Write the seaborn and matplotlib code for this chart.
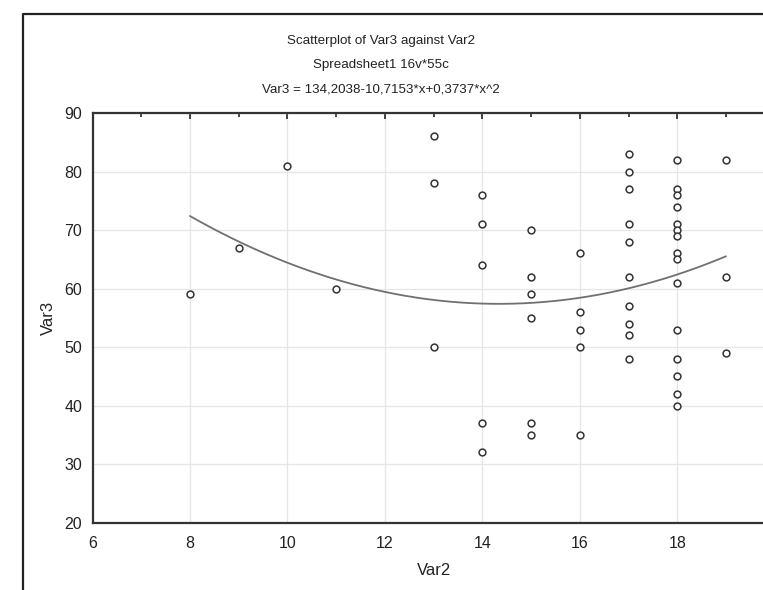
import numpy as np
import matplotlib
matplotlib.use("Agg")
import matplotlib.pyplot as plt
from matplotlib.lines import Line2D
from matplotlib.ticker import MultipleLocator, FixedLocator
import seaborn as sns


# Values (Var2 = x, Var3 = y)
var2 = [8, 9, 10, 11,
        13, 13, 13,
        14, 14, 14, 14, 14,
        15, 15, 15, 15, 15, 15,
        16, 16, 16, 16, 16,
        17, 17, 17, 17, 17, 17, 17, 17, 17, 17,
        18, 18, 18, 18, 18, 18, 18, 18, 18, 18, 18, 18, 18, 18, 18,
        19, 19, 19]
var3 = [59, 67, 81, 60,
        86, 78, 50,
        76, 71, 64, 37, 32,
        70, 62, 59, 55, 37, 35,
        66, 56, 53, 50, 35,
        83, 80, 77, 71, 68, 62, 57, 54, 52, 48,
        82, 77, 76, 74, 71, 70, 69, 66, 65, 61, 53, 48, 45, 42, 40,
        82, 62, 49]

# quadratic fit as printed in the chart: Var3 = c0 + c1*x + c2*x^2
fit_coef = [134.2038, -10.7153, 0.3737]

title_lines = ["Scatterplot of Var3 against Var2",
               "Spreadsheet1 16v*55c",
               "Var3 = 134,2038-10,7153*x+0,3737*x^2"]
x_ticks = [6, 8, 10, 12, 14, 16, 18]

sns.set_style("white")
plt.rcParams['font.family'] = ['Liberation Sans', 'DejaVu Sans']

W, H = 763, 590
fig = plt.figure(figsize=(W / 100, H / 100), dpi=100)
ax = fig.add_axes([92.5 / W, 1 - 522.7 / H, (774.7 - 92.5) / W, (522.7 - 113) / H])

# fitted curve over the range of the data
fit_x = np.linspace(min(var2), max(var2), 200)
fit_y = np.polynomial.polynomial.polyval(fit_x, fit_coef)
sns.lineplot(x=fit_x, y=fit_y, color='#707070', lw=1.3, ax=ax)

# open circle markers
sns.scatterplot(x=var2, y=var3, marker='o', color='white', edgecolor='#333333',
                linewidth=1.1, s=24, ax=ax, zorder=3)

ax.set_xlim(6, 20)
ax.set_ylim(20, 90)
ax.xaxis.set_major_locator(FixedLocator(x_ticks))
ax.xaxis.set_minor_locator(MultipleLocator(1))
ax.yaxis.set_major_locator(MultipleLocator(10))
ax.yaxis.set_minor_locator(MultipleLocator(2))
ax.grid(True, which='major', color='#e6e6e6', lw=0.9)
ax.set_axisbelow(True)

ax.tick_params(which='both', direction='in', top=True, right=True, labelsize=11.5,
               colors='#222222')
ax.tick_params(axis='x', pad=9.5)
ax.tick_params(axis='y', pad=7.5)
ax.tick_params(which='major', length=4, width=1.2)
ax.tick_params(which='minor', length=3, width=1.2)
for s in ax.spines.values():
    s.set_linewidth(1.6)
    s.set_color('#333333')

ax.set_xlabel("Var2", fontsize=12, color='#222222', labelpad=9)
ax.set_ylabel("Var3", fontsize=12, color='#222222', labelpad=6)

for i, line in enumerate(title_lines):
    fig.text(381 / W, 1 - (41 + 24 * i) / H, line, ha='center', va='center',
             fontsize=9.6, color='#222222')

# outer frame of the graph window
fig.add_artist(Line2D([23 / W, 23 / W, 1.05], [0, 1 - 14 / H, 1 - 14 / H],
                      transform=fig.transFigure, color='#222222', lw=1.6))

fig.savefig("out.png", dpi=100)
